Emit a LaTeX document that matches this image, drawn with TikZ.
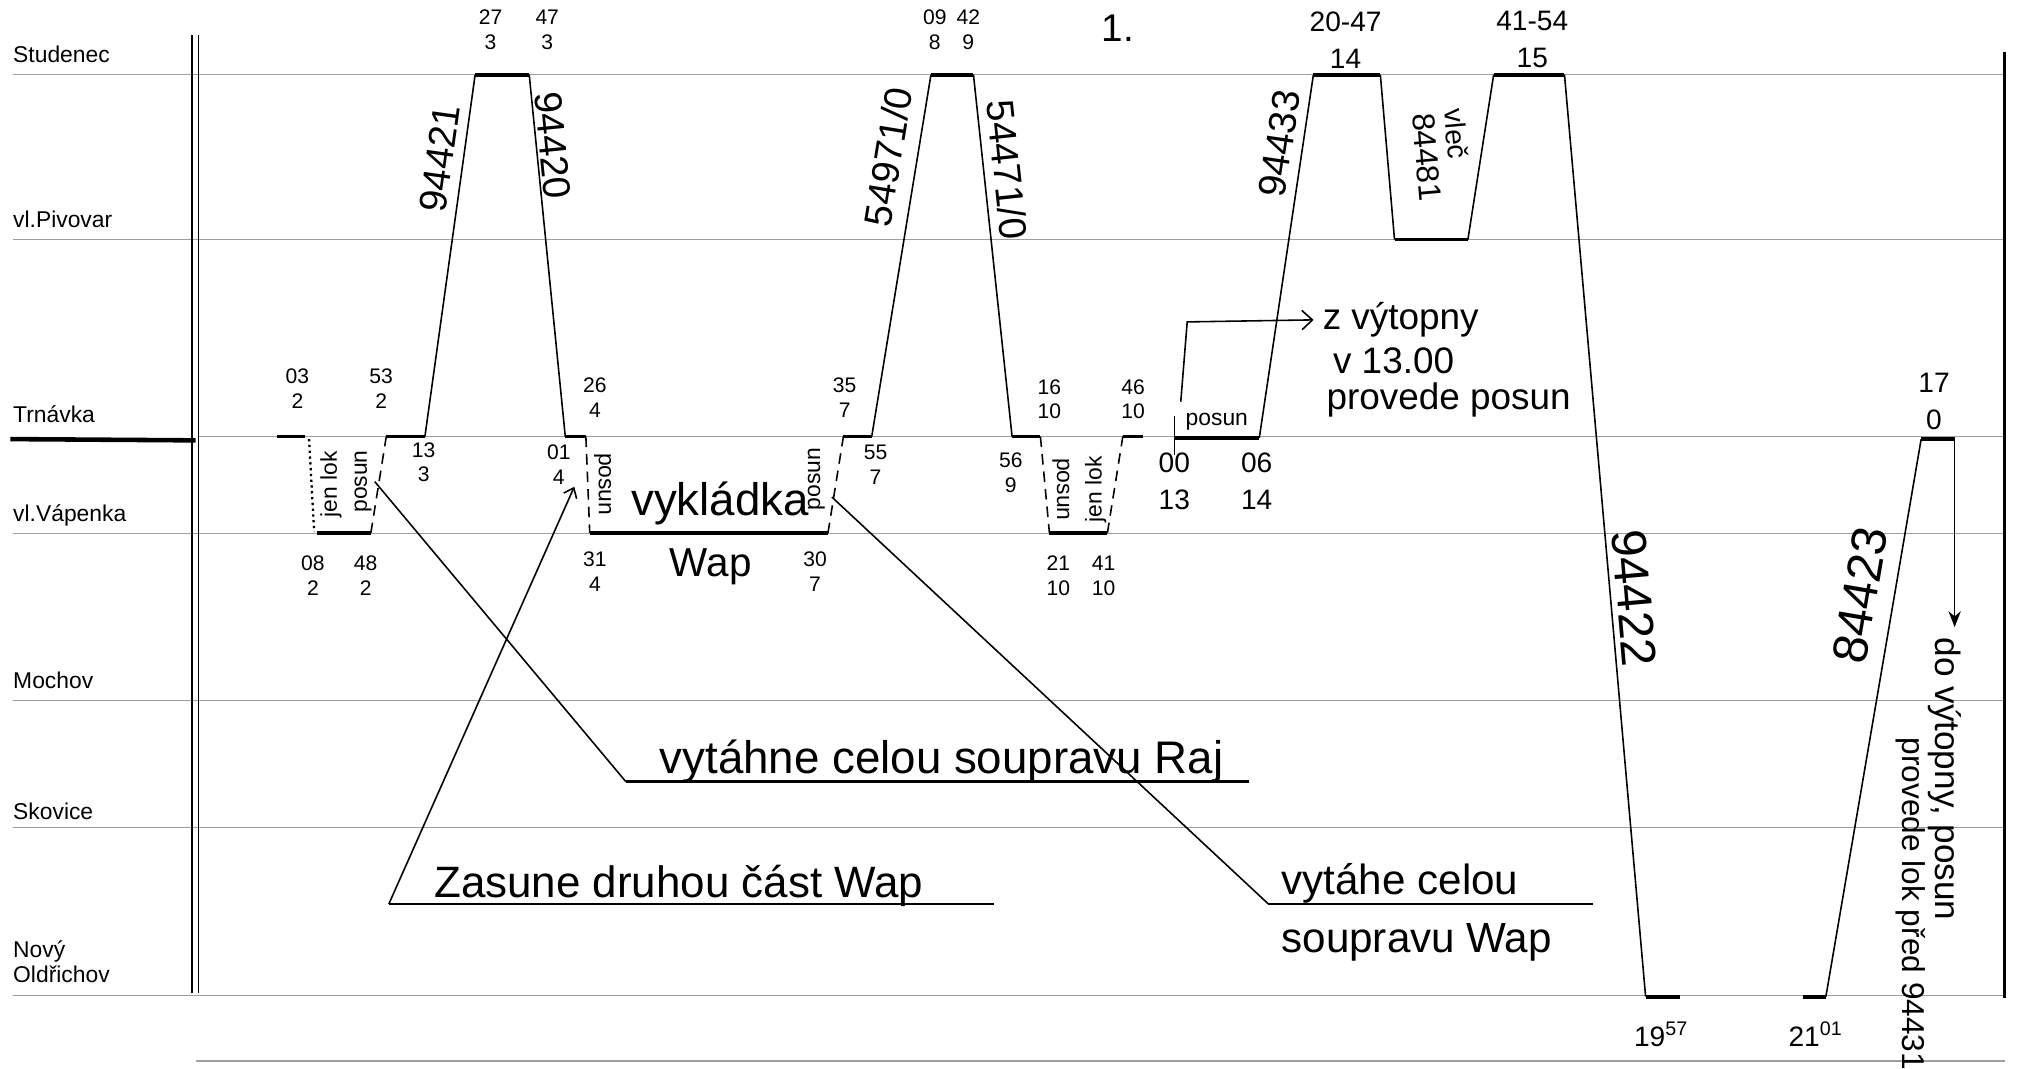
\documentclass[tikz,border=0pt]{standalone}
\usepackage{fontspec}
\setmainfont{Liberation Sans}
\usepackage{tikz}
\usetikzlibrary{arrows.meta}
\tikzstyle{gridline} = [draw=gray!75, line width=0.6pt]
\tikzstyle{station} = [anchor=west, inner sep=0pt, align=left, font=\fontsize{13}{14.6}\selectfont]
\tikzstyle{trainline} = [line width=0.9pt]
\tikzstyle{stopbar} = [line width=2.2pt]
\tikzstyle{shunt} = [line width=0.9pt, dash pattern=on 6pt off 4pt]
\tikzstyle{tlabel} = [align=center, inner sep=0pt, font=\fontsize{12}{14}\selectfont]
\tikzstyle{tbig} = [align=center, inner sep=0pt, font=\fontsize{16}{21}\selectfont]
\tikzstyle{trainno} = [sloped, above, inner sep=5pt, font=\fontsize{22}{22}\selectfont]
\tikzstyle{note} = [anchor=base west, inner sep=0pt, font=\fontsize{24}{24}\selectfont]
\tikzstyle{smalltext} = [inner sep=0pt, font=\fontsize{13}{13}\selectfont]

\begin{document}
\begin{tikzpicture}[x=0.025752cm, y=-0.025752cm]
\useasboundingbox (0,0) rectangle (1568,830);

% grid of stations
\foreach \y/\x in {58/10, 186/10, 339/154, 414/10, 544/10, 643/10, 773/10}
  \draw[gridline] (\x,\y) -- (1557,\y);
\draw[gridline] (152,824) -- (1557,824);
\draw[line width=2.6pt] (8,341) -- (152,342);
\draw[line width=0.9pt] (149,27) -- (149,771);
\draw[line width=0.9pt] (154,27) -- (154,771);
\draw[line width=1.8pt] (1557,40) -- (1557,775);

\node[station] (stu) at (10,42) {Studenec};
\node[station] (piv) at (10,170) {vl.Pivovar};
\node[station] (trn) at (10,322) {Trnávka};
\node[station] (vap) at (10,400) {vl.Vápenka};
\node[station] (moc) at (10,528) {Mochov};
\node[station] (sko) at (10,630) {Skovice};
\node[station] (nol) at (10,747) {Nový\\Oldřichov};

\node[font=\fontsize{22}{22}\selectfont] (nr) at (868,22) {1.};

% 94421 / 94420
\coordinate (a1) at (215,339); \coordinate (a2) at (237,339);
\coordinate (a3) at (240,341); \coordinate (a4) at (244,413);
\coordinate (a5) at (246,414); \coordinate (a6) at (288,414);
\coordinate (a7) at (300,339); \coordinate (a8) at (330,339);
\coordinate (a9) at (369,58);  \coordinate (a10) at (411,58);
\coordinate (a11) at (439,339); \coordinate (a12) at (455,339);
\draw[stopbar] (a1) -- (a2);
\draw[dotted, line width=1.3pt] (a3) -- (a4);
\draw[stopbar] (a5) -- (a6);
\draw[shunt] (a6) -- (a7);
\draw[stopbar] (a7) -- (a8);
\draw[trainline] (a8) -- node[trainno, pos=0.76] (n94421) {94421} (a9);
\draw[stopbar] (a9) -- (a10);
\draw[trainline] (a10) -- node[trainno, pos=0.2, inner sep=1pt] (n94420) {94420} (a11);
\draw[stopbar] (a11) -- (a12);

\node[tlabel] (t03) at (231,302) {03\\2};
\node[tlabel] (t53) at (296,302) {53\\2};
\node[tlabel] (t27) at (381,23) {27\\3};
\node[tlabel] (t47) at (425,23) {47\\3};
\node[tlabel] (t26) at (462,309) {26\\4};
\node[tlabel] (t13) at (329,359) {13\\3};
\node[tlabel] (t01) at (434,361) {01\\4};
\node[tlabel] (t08) at (243,447) {08\\2};
\node[tlabel] (t48) at (284,447) {48\\2};
\node[smalltext, rotate=90] (jl1) at (257,376) {jen lok};
\node[smalltext, rotate=90] (ps1) at (282,374) {posun};

% vykladka, 54971/0
\coordinate (b1) at (458,414); \coordinate (b2) at (643,414);
\coordinate (b3) at (655,339); \coordinate (b4) at (677,339);
\coordinate (b5) at (723,58);  \coordinate (b6) at (756,58);
\coordinate (b7) at (786,339); \coordinate (b8) at (808,339);
\draw[shunt] (a12) -- (b1);
\draw[stopbar] (b1) -- (b2);
\draw[shunt] (b2) -- (b3);
\draw[stopbar] (b3) -- (b4);
\draw[trainline] (b4) -- node[trainno, pos=0.76, inner sep=8pt] (n54971) {54971/0} (b5);
\draw[stopbar] (b5) -- (b6);
\draw[trainline] (b6) -- node[trainno, pos=0.27, inner sep=5pt] (n54471) {54471/0} (b7);
\draw[stopbar] (b7) -- (b8);

\node[smalltext, rotate=-90] (ps2) at (468,376) {posun};
\node[smalltext, rotate=90] (ps3) at (634,372) {posun};
\node[note, font=\fontsize{26}{26}\selectfont] (vykl) at (490,400) {vykládka};
\node[note, font=\fontsize{23}{23}\selectfont] (wap1) at (520,448) {Wap};
\node[tlabel] (t31) at (462,444) {31\\4};
\node[tlabel] (t30) at (633,444) {30\\7};
\node[tlabel] (t35) at (656,309) {35\\7};
\node[tlabel] (t55) at (680,361) {55\\7};
\node[tlabel] (t09) at (726,23) {09\\8};
\node[tlabel] (t42) at (752,23) {42\\9};

% jen lok
\coordinate (c1) at (815,414); \coordinate (c2) at (860,414);
\coordinate (c3) at (872,339); \coordinate (c4) at (888,339);
\draw[shunt] (b8) -- (c1);
\draw[stopbar] (c1) -- (c2);
\draw[shunt] (c2) -- (c3);
\draw[stopbar] (c3) -- (c4);
\node[smalltext, rotate=-90] (ps4) at (824,380) {posun};
\node[smalltext, rotate=90] (jl2) at (851,380) {jen lok};
\node[tlabel] (t16) at (815,310) {16\\10};
\node[tlabel] (t56) at (785,367) {56\\9};
\node[tlabel] (t46) at (880,310) {46\\10};
\node[tlabel] (t21) at (822,447) {21\\10};
\node[tlabel] (t41) at (857,447) {41\\10};

% posun z vytopny, 94433, vlec, 94422
\coordinate (d0) at (912,323); \coordinate (d1) at (912,353);
\coordinate (d2) at (912,340); \coordinate (d3) at (978,340);
\coordinate (d4) at (1020,58); \coordinate (d5) at (1072,58);
\coordinate (d6) at (1083,186); \coordinate (d7) at (1140,186);
\coordinate (d8) at (1160,58); \coordinate (d9) at (1215,58);
\coordinate (d10) at (1278,774); \coordinate (d11) at (1305,774);
\draw[trainline] (d0) -- (d1);
\draw[stopbar] (d2) -- node[above=3pt, smalltext] (psg) {posun} (d3);
\draw[trainline] (d3) -- node[trainno, pos=0.8] (n94433) {94433} (d4);
\draw[stopbar] (d4) -- (d5);
\draw[trainline] (d5) -- (d6);
\draw[stopbar] (d6) -- (d7);
\draw[trainline] (d7) -- (d8);
\draw[stopbar] (d8) -- (d9);
\draw[trainline] (d9) -- node[trainno, pos=0.57, inner sep=3pt, font=\fontsize{28}{28}\selectfont] (n94422) {94422} (d10);
\draw[stopbar] (d10) -- (d11);
\node[rotate=-85, font=\fontsize{18}{18}\selectfont] (n84481) at (1108,122) {84481};
\node[rotate=-85, font=\fontsize{16}{16}\selectfont] (vlec) at (1131,104) {vleč};

\node[tbig] (t00) at (912,374) {00\\13};
\node[tbig] (t06) at (976,374) {06\\14};
\node[tbig] (t2047) at (1045,31) {20-47\\14};
\node[tbig] (t4154) at (1190,31) {41-54\\15};
\node[tbig] (t1957) at (1290,803) {19\textsuperscript{57}};

\node[note, font=\fontsize{21}{21}\selectfont] (zvyt) at (1027,256) {z výtopny};
\node[note, font=\fontsize{21}{21}\selectfont] (v13) at (1035,290) {v 13.00};
\node[note, font=\fontsize{21}{21}\selectfont] (prov) at (1030,318) {provede posun};
\coordinate (f1) at (917,312); \coordinate (f2) at (922,250);
\draw[trainline, -{Straight Barb[length=6pt, width=11pt]}] (f1) -- (f2) -- ([xshift=-5pt]zvyt.west);

% 84423
\coordinate (e1) at (1400,774); \coordinate (e2) at (1418,774);
\coordinate (e3) at (1492,341); \coordinate (e4) at (1518,341);
\coordinate (e5) at (1518,487);
\draw[stopbar] (e1) -- (e2);
\draw[trainline] (e2) -- node[trainno, pos=0.71, inner sep=9pt, font=\fontsize{28}{28}\selectfont] (n84423) {84423} (e3);
\draw[stopbar] (e3) -- (e4);
\draw[trainline, -{Stealth[length=9pt, width=7pt]}] (e4) -- (e5);
\node[tbig] (t17) at (1502,312) {17\\0};
\node[tbig] (t2101) at (1410,803) {21\textsuperscript{01}};
\node[rotate=-90, font=\fontsize{20}{20}\selectfont] (dovyt) at (1510,605) {do výtopny, posun};
\node[rotate=-90, font=\fontsize{18}{18}\selectfont] (prlok) at (1484,702) {provede lok před 94431};

% presuny vozu
\coordinate (g1) at (291,374); \coordinate (g2) at (446,378); \coordinate (g3) at (646,386);
\coordinate (h1) at (486,607); \coordinate (h2) at (970,607);
\coordinate (h3) at (302,702); \coordinate (h4) at (772,702);
\coordinate (h5) at (985,702); \coordinate (h6) at (1237,702);
\draw[trainline] (g1) -- (h1);
\draw[stopbar, line width=1.6pt] (h1) -- (h2);
\draw[trainline, -{Straight Barb[length=5pt, width=8pt]}] (h3) -- (g2);
\draw[stopbar, line width=1.6pt] (h3) -- (h4);
\draw[trainline] (g3) -- (h5);
\draw[stopbar, line width=1.6pt] (h5) -- (h6);
\node[note, font=\fontsize{26}{26}\selectfont] (raj) at (512,601) {vytáhne celou soupravu Raj};
\node[note, font=\fontsize{25}{25}\selectfont] (zas) at (337,697) {Zasune druhou část Wap};
\node[note] (vyt2) at (995,695) {vytáhe celou};
\node[note] (soup) at (995,740) {soupravu Wap};
\end{tikzpicture}
\end{document}
